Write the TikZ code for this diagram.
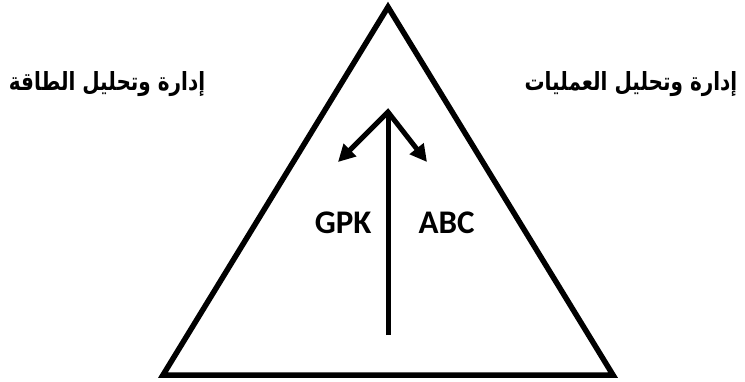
\documentclass[tikz,border=0pt]{standalone}
\usepackage{fontspec}
\setmainfont{Carlito}
\newfontfamily\arabicfont[Script=Arabic,FakeStretch=0.8]{DejaVu Sans}
\TeXXeTstate=1
\usetikzlibrary{arrows.meta,positioning}

\begin{document}
\begin{tikzpicture}
          [x=1pt,y=-1pt,line width=5pt,>={Triangle[length=17pt,width=17pt]}]
          \tikzstyle{abbr}=[inner sep=0pt,font=\bfseries\fontsize{33}{35}\selectfont]
          \tikzstyle{arlabel}=[inner sep=0pt,anchor=base,font=\arabicfont\bfseries\fontsize{25}{27}\selectfont]
          \useasboundingbox (0,0) rectangle (745,381);

          % triangle
          \coordinate (apex) at (388,7);
          \coordinate (bl) at (163,375);
          \coordinate (br) at (613,375);
          \draw[line width=5.5pt,line join=miter] (apex) -- (bl) -- (br) -- cycle;

          % arrows
          \coordinate (top) at (388,112);
          \coordinate (bot) at (388,335);
          \coordinate (lt) at (338,162);
          \coordinate (rt) at (427,162);
          \draw (bot) -- (top);
          \draw[<->,line join=miter] (lt) -- (top) -- (rt);

          \node[abbr,anchor=base east] (gpk) at (374,233) {GPK};
          \node[abbr,anchor=base west] (abc) at (416,233) {ABC};

          \node[arlabel] (energy) at (107,90) {\beginR إدارة وتحليل الطاقة\endR};
          \node[arlabel] (process) at (631,90) {\beginR إدارة وتحليل العمليات\endR};
\end{tikzpicture}
\end{document}
